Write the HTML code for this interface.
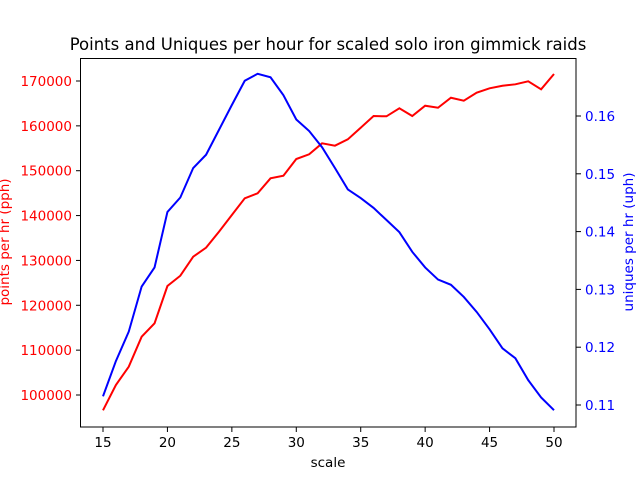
<!DOCTYPE html>
<html><head><meta charset="utf-8"><style>
html,body{margin:0;padding:0;background:#fff;}
svg{display:block;font-family:"DejaVu Sans","Liberation Sans",sans-serif;}
</style></head><body>
<svg id="chart" width="640" height="480" viewBox="0 0 640 480" xmlns="http://www.w3.org/2000/svg">
<rect width="640" height="480" fill="#fff"/>
<text x="328" y="50" text-anchor="middle" font-size="16.5" fill="#000">Points and Uniques per hour for scaled solo iron gimmick raids</text>
<g id="grid"></g>
<g id="series"></g>
<rect x="80.5" y="58.5" width="495.5" height="368.5" fill="none" stroke="#000" stroke-width="1"/>
<text x="328" y="467" text-anchor="middle" font-size="13.5" fill="#000">scale</text>
<text transform="translate(9,242) rotate(-90)" text-anchor="middle" font-size="13.5" fill="red">points per hr (pph)</text>
<text transform="translate(633,242) rotate(-90)" text-anchor="middle" font-size="13.5" fill="blue">uniques per hr (uph)</text>
</svg>
<script>
const scales = [15,16,17,18,19,20,21,22,23,24,25,26,27,28,29,30,31,32,33,34,35,36,37,38,39,40,41,42,43,44,45,46,47,48,49,50];
const pph = [96590,102230,106310,113000,115980,124300,126590,130830,132840,136400,140120,143850,144960,148310,148890,152610,153660,156110,155580,157000,159590,162190,162130,163910,162190,164490,164040,166270,165600,167390,168370,168950,169260,169930,168150,171560];
const uph = [0.1115,0.1176,0.1227,0.1305,0.1338,0.1434,0.1459,0.1510,0.1533,0.1576,0.1619,0.1661,0.1673,0.1667,0.1636,0.1594,0.1574,0.1546,0.1510,0.1473,0.1458,0.1441,0.1420,0.1399,0.1365,0.1338,0.1317,0.1308,0.1287,0.1261,0.1231,0.1198,0.1181,0.1143,0.1113,0.1091];
const xTicks = [15,20,25,30,35,40,45,50];
const leftTicks = [100000,110000,120000,130000,140000,150000,160000,170000];
const rightTicks = [0.11,0.12,0.13,0.14,0.15,0.16];

const NS = "http://www.w3.org/2000/svg";
const xS = v => 103 + (v - 15) * (554 - 103) / 35;
const yL = v => 395 - (v - 100000) * (314 / 70000);
const yR = v => 405 - (v - 0.11) * (289 / 0.05);
const grid = document.getElementById('grid');
const series = document.getElementById('series');
function mk(tag, attrs, parent){const e=document.createElementNS(NS,tag);for(const k in attrs)e.setAttribute(k,attrs[k]);parent.appendChild(e);return e;}

xTicks.forEach(t=>{
  const x = xS(t);
  const l = mk('line',{x1:x,x2:x,y1:427,y2:432,stroke:'#000'},grid);
  
  
  const tx = mk('text',{x:x,y:447,'text-anchor':'middle','font-size':'13.5',fill:'#000'},grid);
  
  
  tx.textContent = t;
});
leftTicks.forEach(t=>{
  const y = yL(t);
  const l = mk('line',{x1:76,x2:80.5,y1:y,y2:y,stroke:'#000'},grid);
  
  
  const tx = mk('text',{x:72,y:y+5,'text-anchor':'end','font-size':'13.5',fill:'red'},grid);
  
  
  tx.textContent = t;
});
rightTicks.forEach(t=>{
  const y = yR(t);
  const l = mk('line',{x1:576,x2:581,y1:y,y2:y,stroke:'#000'},grid);
  
  
  const tx = mk('text',{x:585,y:y+5,'text-anchor':'start','font-size':'13.5',fill:'blue'},grid);
  
  
  tx.textContent = t.toFixed(2);
});
const pr = mk('polyline',{points:scales.map((s,i)=>xS(s)+','+yL(pph[i])).join(' '),fill:'none',stroke:'red','stroke-width':'2'},series);


const pb = mk('polyline',{points:scales.map((s,i)=>xS(s)+','+yR(uph[i])).join(' '),fill:'none',stroke:'blue','stroke-width':'2'},series);


</script>
</body></html>
